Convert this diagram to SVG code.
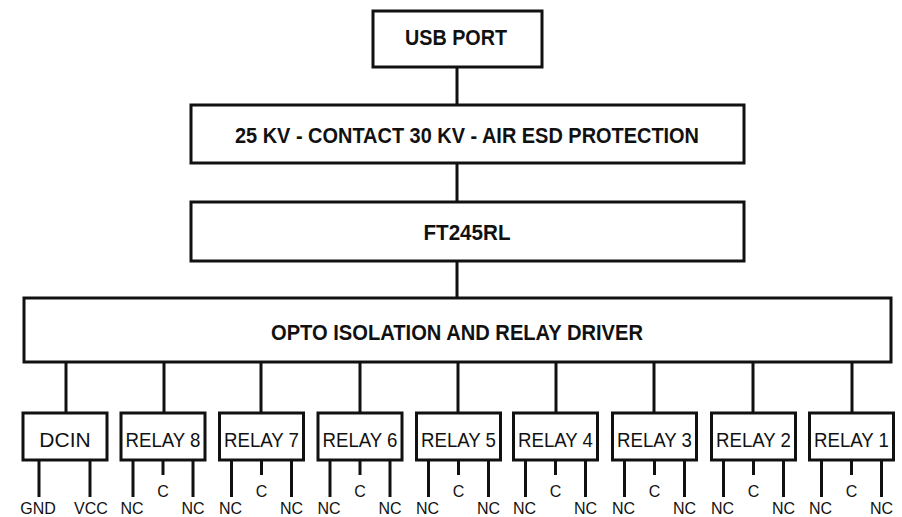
<svg xmlns="http://www.w3.org/2000/svg" width="902" height="517" viewBox="0 0 902 517">
<style>
rect{fill:#fff;stroke:#111;stroke-width:3}
line{stroke:#111;stroke-width:3}
.t{font-family:"Liberation Sans",Arial,sans-serif;font-weight:bold;font-size:22px;fill:#111;text-anchor:middle}
.r{font-family:"Liberation Sans",Arial,sans-serif;font-size:21px;fill:#111;text-anchor:middle}
.p{font-family:"Liberation Sans",Arial,sans-serif;font-size:16px;fill:#111;text-anchor:middle}
</style>
<rect x="0" y="0" width="902" height="517" style="fill:#fff;stroke:none"/>
<g id="connectors">
<line x1="457" y1="67" x2="457" y2="105"/>
<line x1="457" y1="163" x2="457" y2="202"/>
<line x1="457" y1="261" x2="457" y2="298"/>
<line x1="66" y1="362" x2="66" y2="413"/>
<line x1="164" y1="362" x2="164" y2="413"/>
<line x1="261" y1="362" x2="261" y2="413"/>
<line x1="360" y1="362" x2="360" y2="413"/>
<line x1="458" y1="362" x2="458" y2="413"/>
<line x1="556" y1="362" x2="556" y2="413"/>
<line x1="654" y1="362" x2="654" y2="413"/>
<line x1="753" y1="362" x2="753" y2="413"/>
<line x1="852" y1="362" x2="852" y2="413"/>
</g>
<g id="usb"><rect x="373" y="11" width="169" height="56"/><text class="t" x="456" y="45" textLength="102" lengthAdjust="spacingAndGlyphs">USB PORT</text></g>
<g id="esd"><rect x="191" y="105" width="553" height="58"/><text class="t" x="467" y="143" textLength="464" lengthAdjust="spacingAndGlyphs">25 KV - CONTACT 30 KV - AIR ESD PROTECTION</text></g>
<g id="ft245rl"><rect x="191" y="202" width="553" height="59"/><text class="t" x="467" y="240" textLength="87" lengthAdjust="spacingAndGlyphs">FT245RL</text></g>
<g id="opto"><rect x="24" y="298" width="867" height="64"/><text class="t" x="457" y="340" textLength="372" lengthAdjust="spacingAndGlyphs">OPTO ISOLATION AND RELAY DRIVER</text></g>
<g id="dcin">
<rect x="23" y="413" width="84" height="47"/><text class="r" x="65" y="447">DCIN</text>
<line x1="39" y1="460" x2="39" y2="497"/><line x1="90" y1="460" x2="90" y2="497"/>
<text class="p" x="38" y="514">GND</text><text class="p" x="91" y="514">VCC</text>
</g>
<g id="relay8" transform="translate(163,0)">
<rect x="-42" y="413" width="84" height="47"/><text class="r" x="0" y="447" textLength="75" lengthAdjust="spacingAndGlyphs">RELAY 8</text>
<line x1="-30" y1="460" x2="-30" y2="497"/><line x1="0" y1="460" x2="0" y2="475"/><line x1="30" y1="460" x2="30" y2="497"/>
<text class="p" x="-31" y="514">NC</text><text class="p" x="0" y="497">C</text><text class="p" x="30" y="514">NC</text>
</g>
<g id="relay7" transform="translate(261.5,0)">
<rect x="-42" y="413" width="84" height="47"/><text class="r" x="0" y="447" textLength="75" lengthAdjust="spacingAndGlyphs">RELAY 7</text>
<line x1="-30" y1="460" x2="-30" y2="497"/><line x1="0" y1="460" x2="0" y2="475"/><line x1="30" y1="460" x2="30" y2="497"/>
<text class="p" x="-31" y="514">NC</text><text class="p" x="0" y="497">C</text><text class="p" x="30" y="514">NC</text>
</g>
<g id="relay6" transform="translate(360,0)">
<rect x="-42" y="413" width="84" height="47"/><text class="r" x="0" y="447" textLength="75" lengthAdjust="spacingAndGlyphs">RELAY 6</text>
<line x1="-30" y1="460" x2="-30" y2="497"/><line x1="0" y1="460" x2="0" y2="475"/><line x1="30" y1="460" x2="30" y2="497"/>
<text class="p" x="-31" y="514">NC</text><text class="p" x="0" y="497">C</text><text class="p" x="30" y="514">NC</text>
</g>
<g id="relay5" transform="translate(458.5,0)">
<rect x="-42" y="413" width="84" height="47"/><text class="r" x="0" y="447" textLength="75" lengthAdjust="spacingAndGlyphs">RELAY 5</text>
<line x1="-30" y1="460" x2="-30" y2="497"/><line x1="0" y1="460" x2="0" y2="475"/><line x1="30" y1="460" x2="30" y2="497"/>
<text class="p" x="-31" y="514">NC</text><text class="p" x="0" y="497">C</text><text class="p" x="30" y="514">NC</text>
</g>
<g id="relay4" transform="translate(555.5,0)">
<rect x="-42" y="413" width="84" height="47"/><text class="r" x="0" y="447" textLength="75" lengthAdjust="spacingAndGlyphs">RELAY 4</text>
<line x1="-30" y1="460" x2="-30" y2="497"/><line x1="0" y1="460" x2="0" y2="475"/><line x1="30" y1="460" x2="30" y2="497"/>
<text class="p" x="-31" y="514">NC</text><text class="p" x="0" y="497">C</text><text class="p" x="30" y="514">NC</text>
</g>
<g id="relay3" transform="translate(654.5,0)">
<rect x="-42" y="413" width="84" height="47"/><text class="r" x="0" y="447" textLength="75" lengthAdjust="spacingAndGlyphs">RELAY 3</text>
<line x1="-30" y1="460" x2="-30" y2="497"/><line x1="0" y1="460" x2="0" y2="475"/><line x1="30" y1="460" x2="30" y2="497"/>
<text class="p" x="-31" y="514">NC</text><text class="p" x="0" y="497">C</text><text class="p" x="30" y="514">NC</text>
</g>
<g id="relay2" transform="translate(753.5,0)">
<rect x="-42" y="413" width="84" height="47"/><text class="r" x="0" y="447" textLength="75" lengthAdjust="spacingAndGlyphs">RELAY 2</text>
<line x1="-30" y1="460" x2="-30" y2="497"/><line x1="0" y1="460" x2="0" y2="475"/><line x1="30" y1="460" x2="30" y2="497"/>
<text class="p" x="-31" y="514">NC</text><text class="p" x="0" y="497">C</text><text class="p" x="30" y="514">NC</text>
</g>
<g id="relay1" transform="translate(851.5,0)">
<rect x="-42" y="413" width="84" height="47"/><text class="r" x="0" y="447" textLength="75" lengthAdjust="spacingAndGlyphs">RELAY 1</text>
<line x1="-30" y1="460" x2="-30" y2="497"/><line x1="0" y1="460" x2="0" y2="475"/><line x1="30" y1="460" x2="30" y2="497"/>
<text class="p" x="-31" y="514">NC</text><text class="p" x="0" y="497">C</text><text class="p" x="30" y="514">NC</text>
</g>
</svg>
